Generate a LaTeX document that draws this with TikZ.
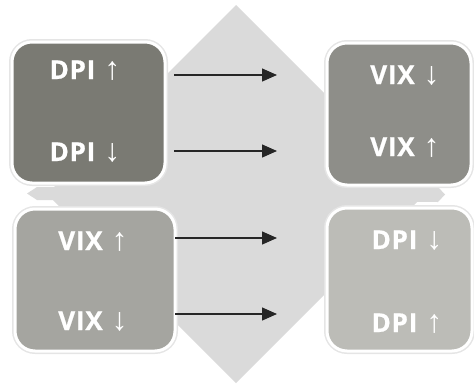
\documentclass[tikz,border=0pt]{standalone}
\usepackage{fontspec}
\setmainfont{Open Sans}[LetterSpace=3,BoldFeatures={FakeBold=0.6}]
\newfontfamily\arrfont{Liberation Sans}
\usetikzlibrary{arrows.meta}
\definecolor{bgc}{HTML}{DADADA}
\definecolor{ctl}{HTML}{7A7A73}
\definecolor{ctr}{HTML}{8E8E89}
\definecolor{cbl}{HTML}{A5A5A0}
\definecolor{cbr}{HTML}{BCBCB7}
\newcommand{\upar}{{\arrfont\mdseries\fontsize{32}{34}\selectfont ↑}}
\newcommand{\dnar}{{\arrfont\mdseries\fontsize{32}{34}\selectfont ↓}}
\tikzset{
  box/.style={rectangle, rounded corners=20pt, draw=white, line width=3pt,
    preaction={draw=black!10, line width=6pt}, inner sep=0pt},
  lbl/.style={text=white, font=\fontsize{26}{30}\selectfont\bfseries, inner sep=0pt},
  conn/.style={line width=1.3pt, draw=black!85, -{Triangle[length=15pt,width=13pt]}}
}
\begin{document}
\begin{tikzpicture}[x=1pt,y=-1pt]
\useasboundingbox (0,0) rectangle (474,386);
\fill[bgc] (236,5) -- (425,194) -- (236,383) -- (47,194) -- cycle;
\fill[bgc] (27,193.5) -- (37,187) -- (438,187) -- (445,194.5) -- (438,202) -- (37,200) -- cycle;
\node[box, fill=ctl, minimum width=153pt, minimum height=141pt] (tl) at (88.5,112.5) {};
\node[box, fill=ctr, minimum width=144pt, minimum height=142pt] (tr) at (399,114) {};
\node[box, fill=cbl, minimum width=160pt, minimum height=142pt] (bl) at (95,280) {};
\node[box, fill=cbr, minimum width=145pt, minimum height=143pt] (br) at (399.5,279.5) {};
\node[lbl, anchor=base] (t1) at (85,79) {DPI\hspace{9pt}\upar};
\node[lbl, anchor=base] (t2) at (85,161) {DPI\hspace{9pt}\dnar};
\node[lbl, anchor=base] (t3) at (405,84) {VIX\hspace{9pt}\dnar};
\node[lbl, anchor=base] (t4) at (405,156) {VIX\hspace{9pt}\upar};
\node[lbl, anchor=base] (t5) at (93,250) {VIX\hspace{9pt}\upar};
\node[lbl, anchor=base] (t6) at (93,330) {VIX\hspace{9pt}\dnar};
\node[lbl, anchor=base] (t7) at (407,249) {DPI\hspace{9pt}\dnar};
\node[lbl, anchor=base] (t8) at (407,332) {DPI\hspace{9pt}\upar};
\coordinate (s1) at (174,75);  \coordinate (e1) at (277,75);
\coordinate (s2) at (174,151); \coordinate (e2) at (277,151);
\coordinate (s3) at (175,238); \coordinate (e3) at (277,238);
\coordinate (s4) at (175,314); \coordinate (e4) at (277,314);
\draw[conn] (s1) -- (e1);
\draw[conn] (s2) -- (e2);
\draw[conn] (s3) -- (e3);
\draw[conn] (s4) -- (e4);
\end{tikzpicture}
\end{document}
